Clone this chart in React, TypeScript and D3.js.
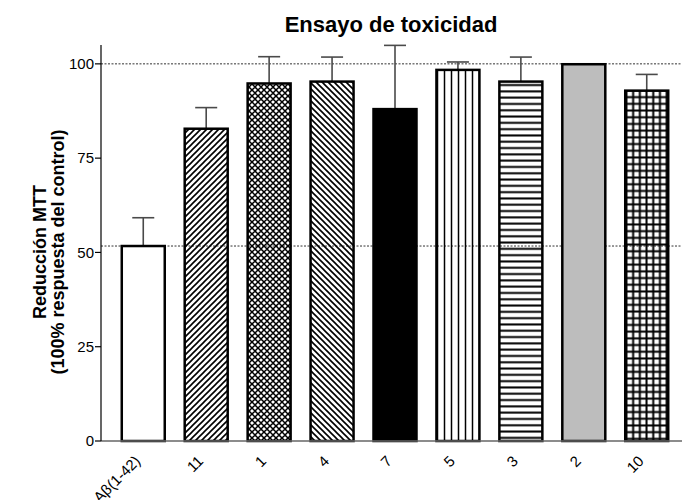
import * as d3 from 'd3'

const W = 682
const H = 500
const FONT = "'Liberation Sans', Arial, sans-serif"

const categories = ['Aβ(1-42)', '11', '1', '4', '7', '5', '3', '2', '10']
const means = [51.7, 82.8, 94.8, 95.3, 88.0, 98.4, 95.3, 99.9, 92.9]
const errors = [7.5, 5.6, 7.1, 6.5, 16.9, 2.1, 6.5, 0, 4.3]
const fills = [
  '#ffffff',
  'url(#pat-fwd)',
  'url(#pat-cross)',
  'url(#pat-back)',
  '#000000',
  'url(#pat-vert)',
  'url(#pat-horiz)',
  '#bdbdbd',
  'url(#pat-grid)',
]
const yTicks = [0, 25, 50, 75, 100]
const refLines = [100, 51.7]
const title = 'Ensayo de toxicidad'
const yTitle = ['Reducción MTT', '(100% respuesta del control)']

const AXIS_X = 101
const Y0 = 441

export default function App() {
  const y = d3.scaleLinear().domain([0, 105]).range([Y0, 45])
  const x = d3
    .scaleBand<string>()
    .domain(categories)
    .range([AXIS_X, 689])
    .paddingInner(0.317)
    .paddingOuter(0.33)
  const bw = x.bandwidth()

  return (
    <svg
      width={W}
      height={H}
      style={{ position: 'absolute', left: 0, top: 0, background: '#fff' }}
      fontFamily={FONT}
    >
      <defs>
        <pattern id="pat-fwd" patternUnits="userSpaceOnUse" width={6} height={6}>
          <path d="M-1,7 L7,-1 M-4,4 L4,-4 M2,10 L10,2" stroke="#000" strokeWidth={1.6} />
        </pattern>
        <pattern id="pat-back" patternUnits="userSpaceOnUse" width={6} height={6}>
          <path d="M-1,-1 L7,7 M2,-4 L10,4 M-4,2 L4,10" stroke="#000" strokeWidth={1.6} />
        </pattern>
        <pattern id="pat-cross" patternUnits="userSpaceOnUse" width={6} height={6}>
          <path
            d="M-1,7 L7,-1 M-4,4 L4,-4 M2,10 L10,2 M-1,-1 L7,7 M2,-4 L10,4 M-4,2 L4,10"
            stroke="#000"
            strokeWidth={1.5}
          />
        </pattern>
        <pattern id="pat-vert" patternUnits="userSpaceOnUse" width={7} height={7}>
          <line x1={3.5} x2={3.5} y1={0} y2={7} stroke="#000" strokeWidth={1.5} />
        </pattern>
        <pattern id="pat-horiz" patternUnits="userSpaceOnUse" width={6.3} height={6.3}>
          <line x1={0} x2={6.3} y1={3.15} y2={3.15} stroke="#000" strokeWidth={2} />
        </pattern>
        <pattern id="pat-grid" patternUnits="userSpaceOnUse" width={6.7} height={6.7}>
          <line x1={3.35} x2={3.35} y1={0} y2={6.7} stroke="#000" strokeWidth={2} />
          <line x1={0} x2={6.7} y1={3.35} y2={3.35} stroke="#000" strokeWidth={2} />
        </pattern>
      </defs>

      <text x={391} y={32} textAnchor="middle" fontSize={22} fontWeight="bold">
        {title}
      </text>

      {/* y axis title */}
      {yTitle.map((t, i) => (
        <text
          key={t}
          transform={`translate(${46 + i * 18},252) rotate(-90)`}
          textAnchor="middle"
          fontSize={18}
          fontWeight="bold"
        >
          {t}
        </text>
      ))}

      {/* reference lines */}
      {refLines.map((v) => (
        <line
          key={v}
          x1={AXIS_X}
          x2={W}
          y1={y(v)}
          y2={y(v)}
          stroke="#333"
          strokeWidth={1}
          strokeDasharray="2,1.5"
        />
      ))}

      {/* error bars */}
      {categories.map((c, i) =>
        errors[i] > 0 ? (
          <g key={c} stroke="#4a4a4a" strokeWidth={1.6}>
            <line
              x1={x(c)! + bw / 2}
              x2={x(c)! + bw / 2}
              y1={y(means[i])}
              y2={y(means[i] + errors[i])}
            />
            <line
              x1={x(c)! + bw / 2 - 11}
              x2={x(c)! + bw / 2 + 11}
              y1={y(means[i] + errors[i])}
              y2={y(means[i] + errors[i])}
            />
          </g>
        ) : null
      )}

      {/* bars */}
      {categories.map((c, i) => (
        <rect
          key={c}
          x={x(c)}
          y={y(means[i])}
          width={bw}
          height={Y0 - y(means[i])}
          fill={fills[i]}
          stroke="#000"
          strokeWidth={2.5}
        />
      ))}

      {/* x axis */}
      <line x1={AXIS_X} x2={W} y1={Y0} y2={Y0} stroke="#666" strokeWidth={1.6} />
      {categories.map((c) => (
        <text
          key={c}
          transform={`translate(${x(c)! + bw / 2 - 2},462) rotate(-45)`}
          textAnchor="end"
          fontSize={15}
        >
          {c}
        </text>
      ))}

      {/* y axis */}
      <line x1={AXIS_X} x2={AXIS_X} y1={y(105)} y2={Y0} stroke="#000" strokeWidth={1.2} />
      {yTicks.map((t) => (
        <g key={t} transform={`translate(0,${y(t)})`}>
          <line x1={AXIS_X - 6} x2={AXIS_X} stroke="#000" strokeWidth={1.2} />
          <text x={AXIS_X - 7} dy="0.35em" textAnchor="end" fontSize={15}>
            {t}
          </text>
        </g>
      ))}
    </svg>
  )
}
